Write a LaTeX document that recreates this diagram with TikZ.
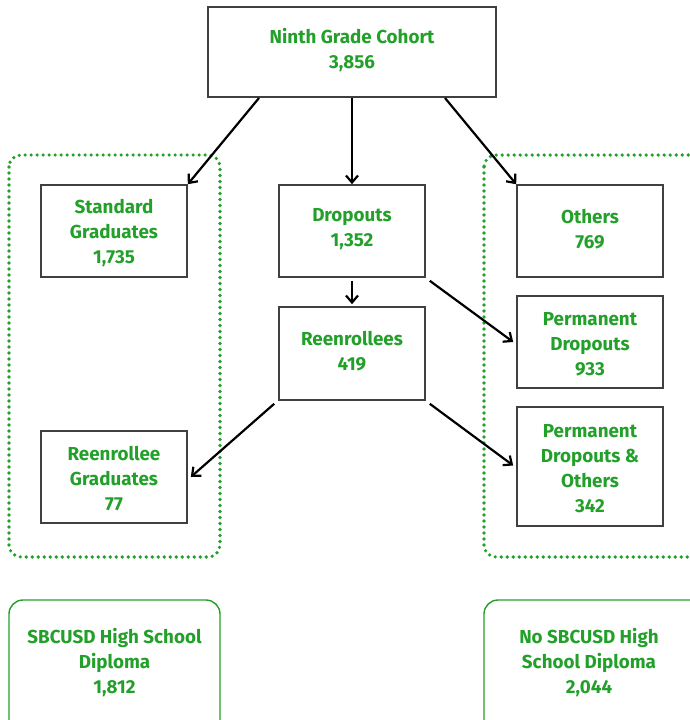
\documentclass[tikz,border=0pt]{standalone}
\usepackage{fontspec}
\setmainfont{Fira Sans}
\usetikzlibrary{arrows.meta}
\definecolor{txtgreen}{HTML}{22A02A}
\definecolor{boxgray}{HTML}{404040}
\tikzset{
  lbl/.style={text=txtgreen, font=\fontsize{18.8}{25}\selectfont\bfseries, align=center},
  cbox/.style={draw=boxgray, line width=1.6pt, minimum width=146pt, minimum height=92pt, inner sep=0pt},
  grp/.style={draw=txtgreen, line width=3.6pt, line cap=round, dash pattern=on 0pt off 6pt, rounded corners=12pt},
  sumbox/.style={draw=txtgreen, line width=1.4pt, rounded corners=14pt},
  arr/.style={draw=black, line width=2.2pt, -{Straight Barb[length=7pt,width=12pt,line width=2.2pt]}}
}
\begin{document}
\begin{tikzpicture}[x=1pt,y=-1pt]
\clip (0,0) rectangle (690,720);
\fill[white] (0,0) rectangle (690,720);
% group frames
\draw[grp] (9,155) rectangle (220,557);
\draw[grp] (484,155) rectangle (720,557);
\draw[sumbox] (9,600) rectangle (220,740);
\draw[sumbox] (484,600) rectangle (720,740);
\node[lbl] (s1) at (114.5,662.5) {SBCUSD High School\\Diploma\\1,812};
\node[lbl] (s2) at (589,662.5) {No SBCUSD High\\School Diploma\\2,044};
% boxes
\node[cbox, minimum width=288pt, minimum height=90pt] (top) at (352,52) {};
\node[lbl] (topl) at ([yshift=2pt]top.center) {Ninth Grade Cohort\\3,856};
\node[cbox] (std) at (114,231) {};
\node[lbl] (stdl) at ([yshift=-2pt]std.center) {Standard\\Graduates\\1,735};
\node[cbox] (drop) at (352,231) {};
\node[lbl] (dropl) at ([yshift=2pt]drop.center) {Dropouts\\1,352};
\node[cbox] (oth) at (590,231) {};
\node[lbl] (othl) at ([yshift=2pt]oth.center) {Others\\769};
\node[cbox, minimum height=93pt] (reen) at (352,353.5) {};
\node[lbl] (reenl) at ([yshift=2pt]reen.center) {Reenrollees\\419};
\node[cbox] (pd) at (590,342) {};
\node[lbl] (pdl) at ([yshift=-2pt]pd.center) {Permanent\\Dropouts\\933};
\node[cbox] (rg) at (114,477) {};
\node[lbl] (rgl) at ([yshift=-2pt]rg.center) {Reenrollee\\Graduates\\77};
\node[cbox, minimum height=119pt] (pdo) at (590,466.5) {};
\node[lbl] (pdol) at ([yshift=-2pt]pdo.center) {Permanent\\Dropouts \&\\Others\\342};
% arrows
\coordinate (t1) at (259,98);
\coordinate (t2) at (445,98);
\draw[arr] (t1) -- (std.north east);
\draw[arr] (top.south) -- (drop.north);
\draw[arr] (t2) -- (oth.north west);
\draw[arr] ([yshift=-3pt]drop.south) -- ([yshift=2pt]reen.north);
\draw[arr] ([shift={(4pt,-3pt)}]drop.south east) -- ([xshift=-3pt]pd.west);
\draw[arr] ([shift={(-4pt,-3pt)}]reen.south west) -- ([xshift=3pt]rg.east);
\draw[arr] ([shift={(4pt,-3pt)}]reen.south east) -- ([shift={(-3pt,1pt)}]pdo.west);
\end{tikzpicture}
\end{document}
